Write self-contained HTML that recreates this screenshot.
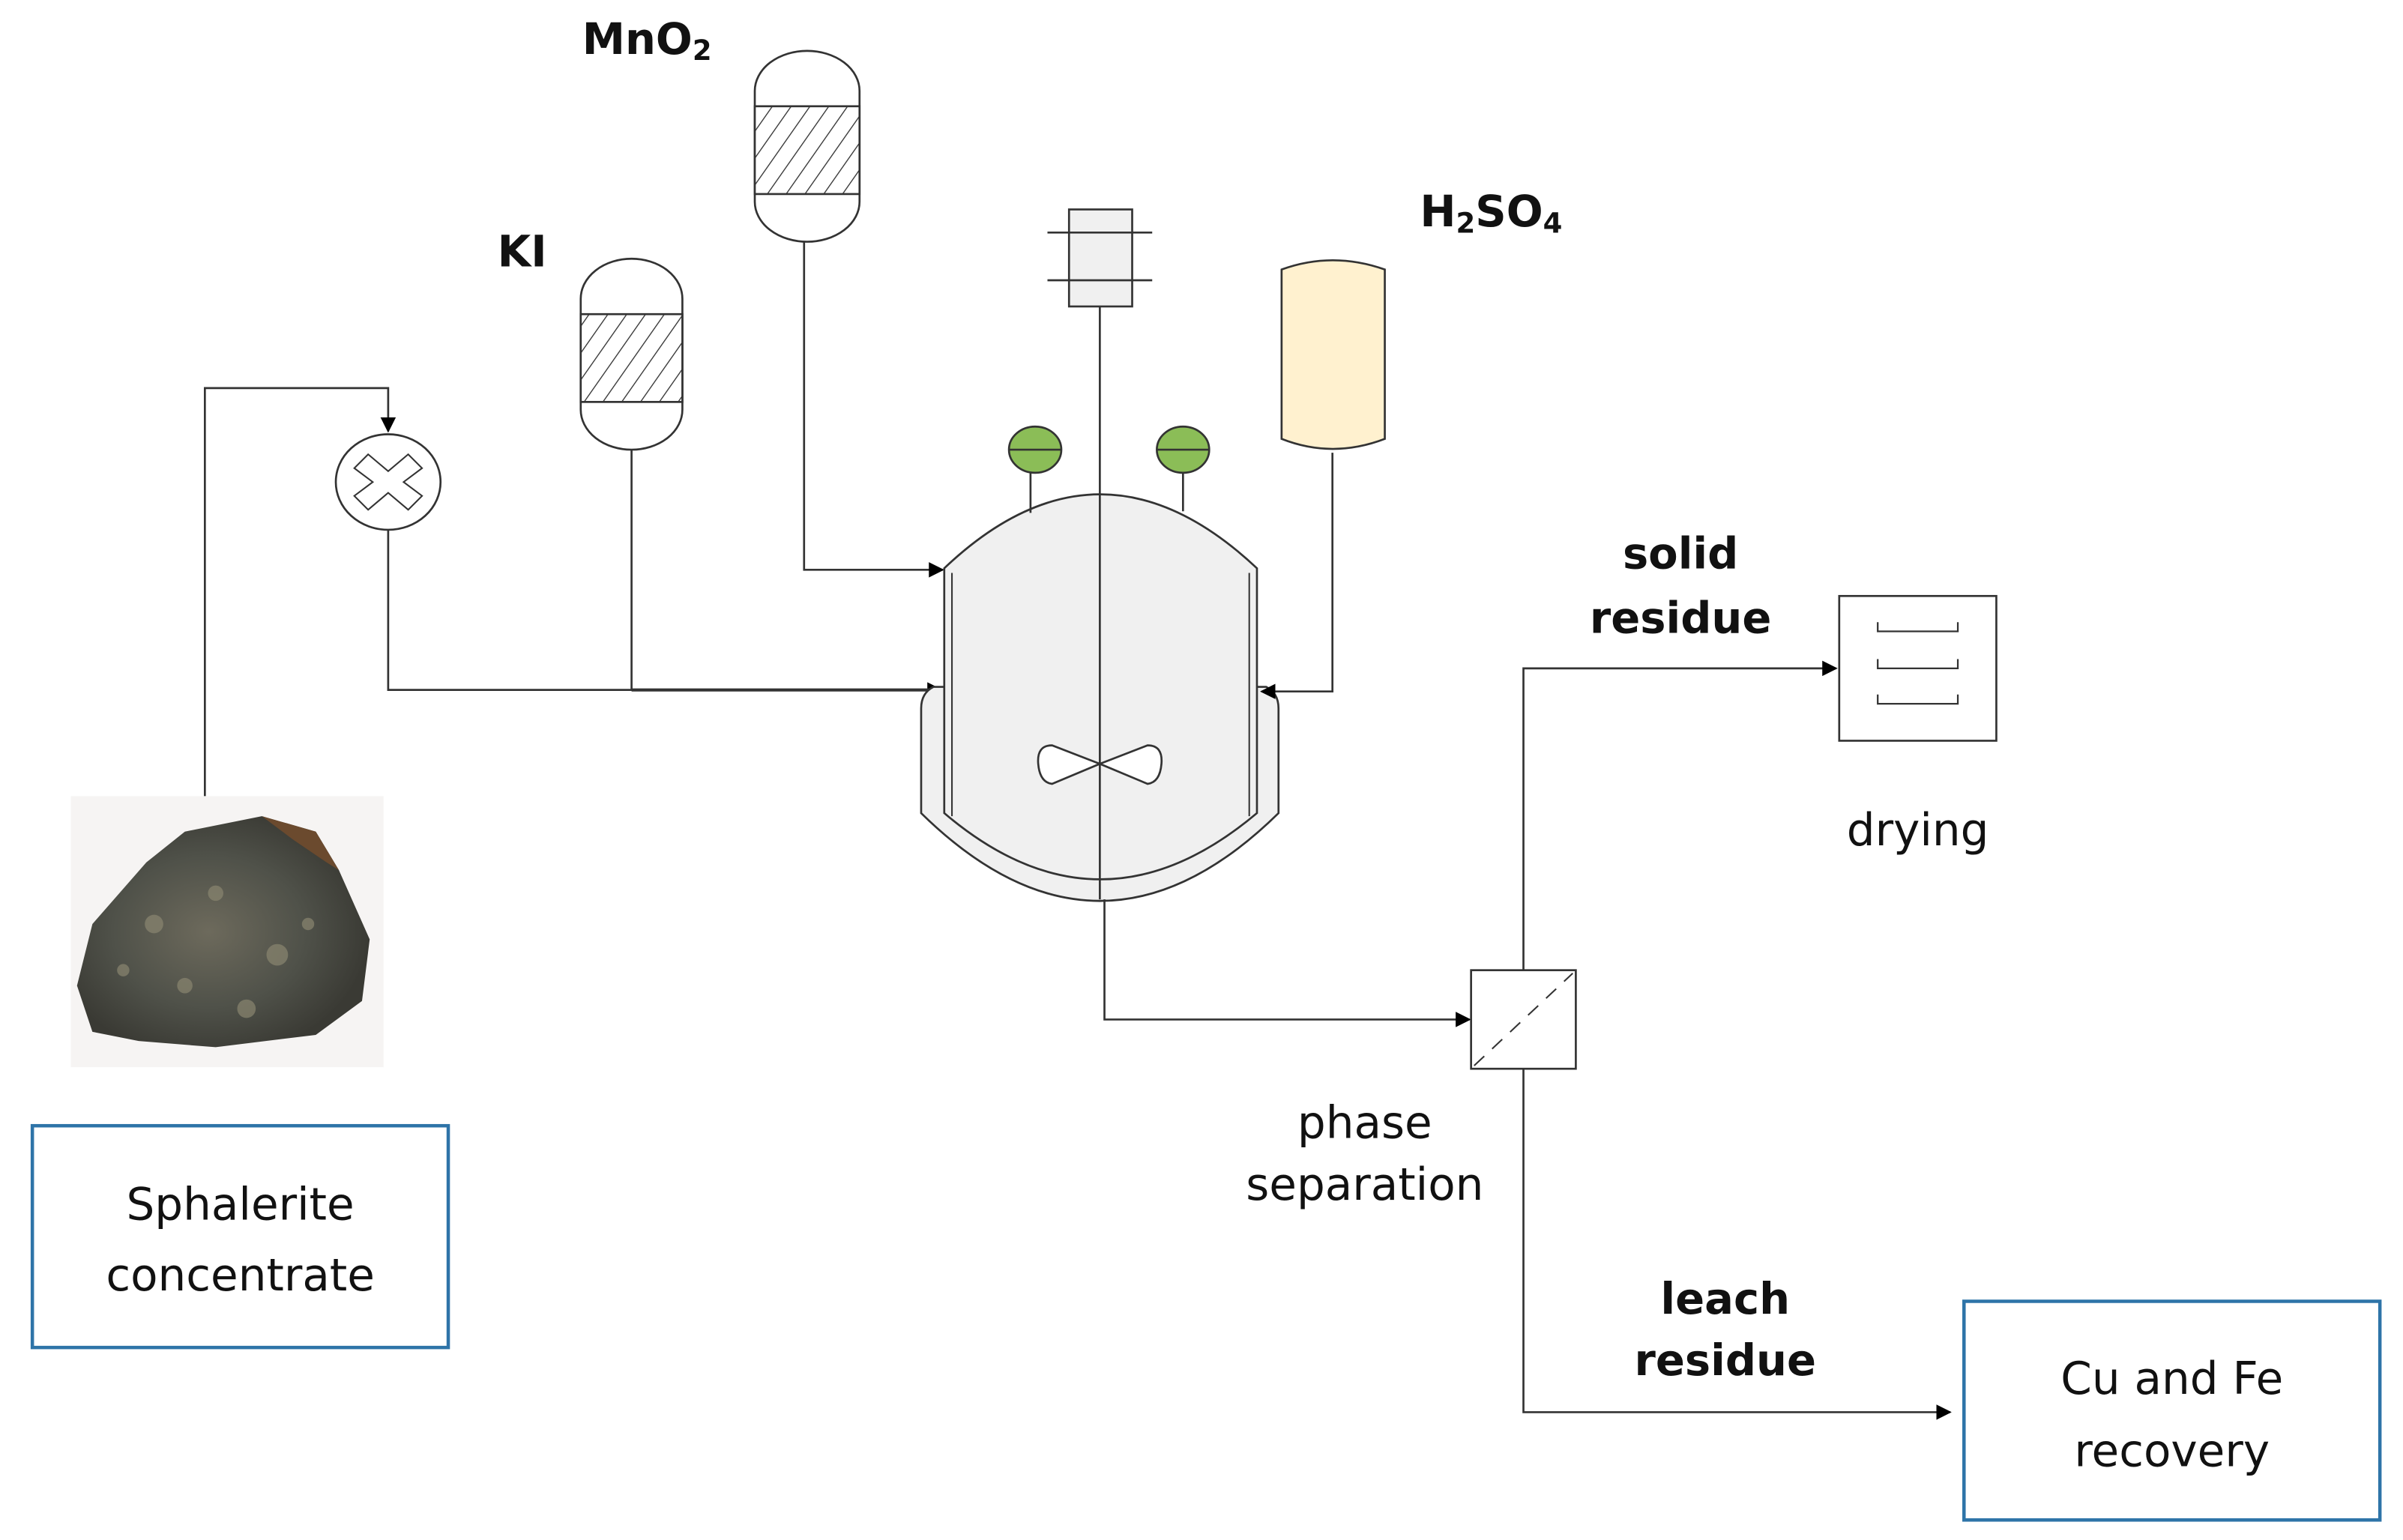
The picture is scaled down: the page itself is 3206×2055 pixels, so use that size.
<!DOCTYPE html>
<html><head><meta charset="utf-8"><style>
html,body{margin:0;padding:0;background:#fff;}
svg{display:block;}
text{font-family:"DejaVu Sans","Liberation Sans",sans-serif;}
</style></head><body>
<svg width="3206" height="2055" viewBox="0 0 1560 1000" preserveAspectRatio="none" xmlns="http://www.w3.org/2000/svg">
<defs>
<pattern id="h" patternUnits="userSpaceOnUse" width="10" height="10" patternTransform="rotate(35)">
<rect width="10" height="10" fill="#fff"/><line x1="0" y1="0" x2="0" y2="10" stroke="#333" stroke-width="1.3"/>
</pattern>
<marker id="a" markerWidth="10" markerHeight="10" refX="9" refY="5" orient="auto" markerUnits="userSpaceOnUse"><path d="M0,0 L10,5 L0,10 z" fill="#000"/></marker>
<radialGradient id="rock" cx="45%" cy="50%" r="55%"><stop offset="0" stop-color="#6d6a5c"/><stop offset="0.6" stop-color="#4f5149"/><stop offset="1" stop-color="#3a3a34"/></radialGradient>
</defs>
<g fill="none" stroke="#333" stroke-width="1.3">
<!-- left feed line -->
<path d="M133,517 V252 H252 V280" marker-end="url(#a)"/>
<ellipse cx="252" cy="313" rx="34" ry="31" fill="#fff"/>
<path d="M239,295 L252,306 L265,295 L274,304 L262,313 L274,322 L265,331 L252,320 L239,331 L230,322 L242,313 L230,304 Z" stroke-width="1"/>
<path d="M252,344 V448 H611" marker-end="url(#a)"/>
<path d="M410,292 V448" />
<path d="M410,448 H611" stroke-width="2"/>
<!-- MnO2 vessel -->
<path d="M490,59 A34,26 0 0 1 558,59 V131 A34,26 0 0 1 490,131 Z" fill="#fff"/>
<rect x="490" y="69" width="68" height="57" fill="url(#h)"/>
<path d="M522,157 V370 H612" marker-end="url(#a)"/>
<!-- KI vessel -->
<path d="M377,194 A33,26 0 0 1 443,194 V266 A33,26 0 0 1 377,266 Z" fill="#fff"/>
<rect x="377" y="204" width="66" height="57" fill="url(#h)"/>
<!-- jacket -->
<path d="M606,446 Q598,450 598,460 V528 Q714,642 830,528 V460 Q830,450 822,446 Z" fill="#f0f0f0"/>
<!-- reactor body -->
<path d="M613,369 Q714,273 816,369 V528 Q714,614 613,528 Z" fill="#f0f0f0"/>
<path d="M618,372 V530 M811,372 V530" stroke-width="1"/>
<!-- agitator -->
<rect x="694" y="136" width="41" height="63" fill="#f0f0f0"/>
<path d="M680,151 H748 M680,182 H748"/>
<path d="M714,199 V584"/>
<path d="M714,496 L683,484 Q673,484 674,496 Q675,508 683,509 Z M714,496 L745,484 Q755,484 754,496 Q753,508 745,509 Z" fill="#fff"/>
<!-- gauges -->
<path d="M669,306 V333 M768,306 V332"/>
<ellipse cx="672" cy="292" rx="17" ry="15" fill="#8bbd57"/>
<path d="M655,292 H689"/>
<ellipse cx="768" cy="292" rx="17" ry="15" fill="#8bbd57"/>
<path d="M751,292 H785"/>
<!-- H2SO4 tank -->
<path d="M832,175 Q865,163 899,175 V285 Q865,298 832,285 Z" fill="#fff1cf"/>
<path d="M865,294 V449 H819" marker-end="url(#a)"/>
<!-- to separator -->
<path d="M717,584 V662 H954" marker-end="url(#a)"/>
<rect x="955" y="630" width="68" height="64" fill="#fff"/>
<path d="M957,692 L1021,632" stroke-dasharray="9,7" stroke-width="1"/>
<path d="M989,630 V434 H1192" marker-end="url(#a)"/>
<rect x="1194" y="387" width="102" height="94" fill="#fff"/>
<path d="M1219,404 V410 H1271 V404 M1219,428 V434 H1271 V428 M1219,451 V457 H1271 V451" stroke-width="1.1"/>
<path d="M989,694 V917 H1266" marker-end="url(#a)"/>
</g>
<!-- rock -->
<rect x="46" y="517" width="203" height="176" fill="#f6f4f3"/>
<path d="M60,600 L95,560 L120,540 L170,530 L205,540 L220,565 L240,610 L235,650 L205,672 L140,680 L90,676 L60,670 L50,640 Z" fill="url(#rock)"/>
<path d="M170,530 L205,540 L220,565 L212,560 L190,545 Z" fill="#6b4a2e"/>
<g fill="#8a8670" opacity="0.7">
<circle cx="100" cy="600" r="6"/><circle cx="140" cy="580" r="5"/><circle cx="180" cy="620" r="7"/><circle cx="120" cy="640" r="5"/><circle cx="200" cy="600" r="4"/><circle cx="160" cy="655" r="6"/><circle cx="80" cy="630" r="4"/>
</g>
<!-- boxes -->
<rect x="21" y="731" width="270" height="144" fill="#fff" stroke="#2e74a8" stroke-width="2.2"/>
<rect x="1275" y="845" width="270" height="142" fill="#fff" stroke="#2e74a8" stroke-width="2.2"/>
<g fill="#111" font-size="29" text-anchor="middle">
<text x="156" y="792">Sphalerite</text>
<text x="156" y="838">concentrate</text>
<text x="1410" y="905">Cu and Fe</text>
<text x="1410" y="952">recovery</text>
<text x="1245" y="549">drying</text>
<text x="886" y="739">phase</text>
<text x="886" y="779">separation</text>
</g>
<g fill="#111" font-size="28" font-weight="bold" text-anchor="middle">
<text x="1091" y="369">solid</text>
<text x="1091" y="411">residue</text>
<text x="1120" y="853">leach</text>
<text x="1120" y="893">residue</text>
<text x="339" y="173">KI</text>
<text x="420" y="35">MnO<tspan font-size="18" dy="4">2</tspan></text>
<text x="968" y="147">H<tspan font-size="18" dy="4">2</tspan><tspan dy="-4">SO</tspan><tspan font-size="18" dy="4">4</tspan></text>
</g>
</svg>
</body></html>
